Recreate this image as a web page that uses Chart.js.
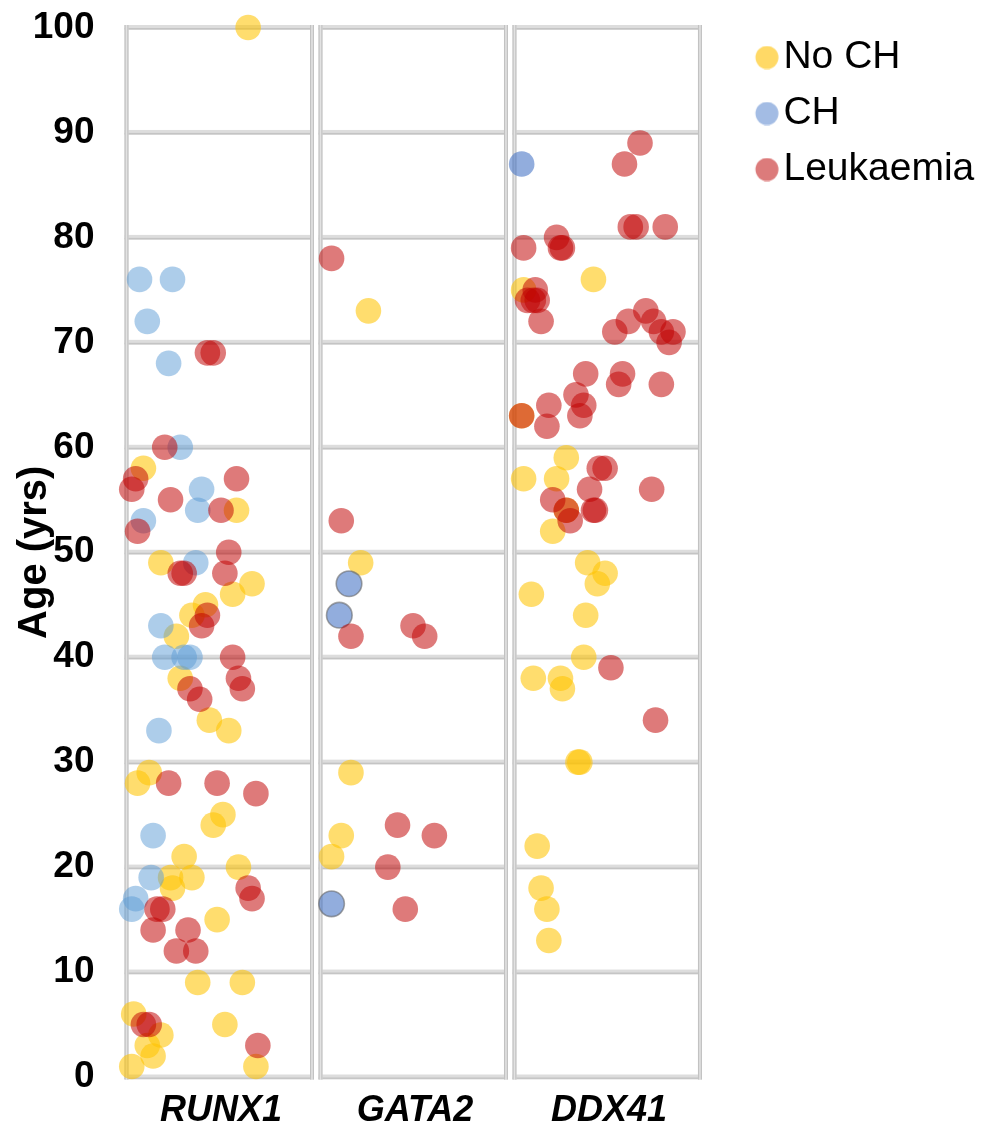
<!DOCTYPE html>
<html>
<head>
<meta charset="utf-8">
<script src="https://cdn.jsdelivr.net/npm/chart.js@4.4.1/dist/chart.umd.min.js"></script>
<style>
  html, body { margin: 0; padding: 0; background: #ffffff; }
  #wrap { width: 987px; height: 1126px; }
</style>
</head>
<body>
<div id="wrap"><canvas id="c" width="987" height="1126"></canvas></div>
<script>
// ---- data ----
const categories = ['RUNX1', 'GATA2', 'DDX41'];
const groupNames = ['No CH', 'CH', 'Leukaemia'];
const yTicks = [0, 10, 20, 30, 40, 50, 60, 70, 80, 90, 100];

// ages (years) and horizontal jitter inside each gene column (0..1)
const runx1NoChAge = [100,58,54,49,47,46,45,44,42,38,34,33,28,29,25,24,21,20,19,18,19,15,9,9,6,4,3,2,1,5,1];
const runx1NoChJit = [0.64,0.10,0.58,0.19,0.66,0.56,0.42,0.35,0.27,0.29,0.44,0.54,0.07,0.13,0.51,0.46,0.31,0.59,0.24,0.25,0.35,0.48,0.38,0.61,0.05,0.19,0.12,0.15,0.04,0.52,0.68];
const runx1ChAge = [76,76,72,68,60,53,56,54,49,43,40,40,40,33,23,19,17,16];
const runx1ChJit = [0.08,0.25,0.12,0.23,0.29,0.10,0.40,0.38,0.37,0.19,0.21,0.31,0.34,0.18,0.15,0.14,0.06,0.04];
const runx1LeukAge = [69,69,60,57,56,52,55,54,57,50,48,48,48,44,43,40,38,37,37,36,28,28,27,18,17,16,16,14,14,12,12,5,5,3];
const runx1LeukJit = [0.43,0.46,0.21,0.06,0.04,0.07,0.24,0.50,0.58,0.54,0.29,0.31,0.52,0.43,0.40,0.56,0.59,0.34,0.61,0.39,0.23,0.48,0.68,0.64,0.66,0.17,0.20,0.15,0.33,0.27,0.37,0.10,0.13,0.69];

const gata2NoChAge = [73,49,29,23,21];
const gata2NoChJit = [0.26,0.22,0.17,0.12,0.07];
const gata2ChAge = [47,44,16.5];
const gata2ChJit = [0.16,0.11,0.07];
const gata2LeukAge = [78,53,42,43,42,24,23,20,16];
const gata2LeukJit = [0.07,0.12,0.17,0.49,0.55,0.41,0.60,0.36,0.45];

const ddx41NoChAge = [76,75,63,59,57,57,54,52,49,48,47,46,44,40,38,38,37,30,30,22,18,16,13];
const ddx41NoChJit = [0.42,0.06,0.05,0.28,0.06,0.23,0.28,0.21,0.39,0.48,0.44,0.10,0.38,0.37,0.11,0.25,0.26,0.34,0.35,0.13,0.15,0.18,0.19];
const ddx41ChAge = [87];
const ddx41ChJit = [0.05];
const ddx41LeukAge = [89,87,81,81,81,79,80,79,79,75,74,74,74,72,71,72,73,72,71,71,70,67,67,66,66,65,64,64,63,63,62,58,58,56,56,55,54,54,54,53,39,34];
const ddx41LeukJit = [0.66,0.58,0.61,0.64,0.79,0.06,0.23,0.25,0.26,0.12,0.08,0.11,0.13,0.15,0.53,0.60,0.69,0.73,0.77,0.83,0.81,0.38,0.57,0.55,0.77,0.33,0.19,0.37,0.35,0.05,0.18,0.45,0.48,0.40,0.72,0.21,0.28,0.43,0.42,0.30,0.51,0.74];

// ---- build point lists ----
function pts(parts) {
  const out = [];
  parts.forEach(([gi, ages, jit]) => {
    ages.forEach((a, k) => out.push({ x: gi + jit[k], y: a }));
  });
  return out;
}
const noChData = pts([[0, runx1NoChAge, runx1NoChJit], [1, gata2NoChAge, gata2NoChJit], [2, ddx41NoChAge, ddx41NoChJit]]);
const chData = pts([[0, runx1ChAge, runx1ChJit], [1, gata2ChAge, gata2ChJit], [2, ddx41ChAge, ddx41ChJit]]);
const leukData = pts([[0, runx1LeukAge, runx1LeukJit], [1, gata2LeukAge, gata2LeukJit], [2, ddx41LeukAge, ddx41LeukJit]]);

// ---- legend markers (circle shifted right inside the image) ----
const legendColors = ['#FFD966', '#A3BCE4', '#DC7B7B'];
function makeMark(color) {
  const c = document.createElement('canvas');
  c.width = 40; c.height = 24;
  const g = c.getContext('2d');
  g.fillStyle = color;
  g.beginPath();
  g.arc(20 + 4.1, 12, 11.5, 0, Math.PI * 2);
  g.fill();
  return c;
}
const legendMarks = legendColors.map(makeMark);

// ---- panel frames and gridlines ----
function hLine(ctx, l, r, py) {
  ctx.fillStyle = '#DDDDDD';
  ctx.fillRect(l - 2, py - 2.5, r - l + 4, 5);
  ctx.fillStyle = '#C4C4C4';
  ctx.fillRect(l - 2, py + 0.5, r - l + 4, 1.4);
}
function vLine(ctx, px, t, b) {
  ctx.fillStyle = '#E2E2E2';
  ctx.fillRect(px - 2, t - 2.5, 4, b - t + 5);
  ctx.fillStyle = '#C2C2C2';
  ctx.fillRect(px - 2, t - 2.5, 1.2, b - t + 5);
  ctx.fillRect(px + 0.8, t - 2.5, 1.2, b - t + 5);
}
const panelPlugin = {
  id: 'panels',
  beforeDatasetsDraw(chart) {
    const { ctx, scales: { x, y } } = chart;
    const top = y.getPixelForValue(yTicks[yTicks.length - 1]);
    const bottom = y.getPixelForValue(yTicks[0]);
    ctx.save();
    categories.forEach((c, i) => {
      const l = x.getPixelForValue(i) + 2.5;
      const r = x.getPixelForValue(i + 1) - 6;
      yTicks.forEach(v => hLine(ctx, l, r, y.getPixelForValue(v)));
      vLine(ctx, l, top, bottom);
      vLine(ctx, r, top, bottom);
    });
    ctx.restore();
  }
};

const FONT = "'Liberation Sans', Arial, Helvetica, sans-serif";

new Chart(document.getElementById('c'), {
  type: 'scatter',
  data: {
    datasets: [
      {
        label: groupNames[0], data: noChData, order: 2, clip: false,
        backgroundColor: 'rgba(255,195,0,0.57)', borderWidth: 0,
        pointRadius: 12.8, pointHoverRadius: 12.8
      },
      {
        label: groupNames[1], data: chData, order: 1, clip: false,
        backgroundColor: (c) => (c.raw && c.raw.x < 1) ? 'rgba(91,155,213,0.5)' : 'rgba(68,114,196,0.58)',
        borderColor: 'rgba(105,105,105,0.6)',
        borderWidth: (c) => (c.raw && c.raw.x >= 1 && c.raw.x < 2) ? 1.6 : 0,
        pointRadius: 12.8, pointHoverRadius: 12.8
      },
      {
        label: groupNames[2], data: leukData, order: 0, clip: false,
        backgroundColor: 'rgba(192,0,0,0.52)', borderWidth: 0,
        pointRadius: 12.8, pointHoverRadius: 12.8
      }
    ]
  },
  options: {
    responsive: false,
    animation: false,
    events: [],
    layout: { padding: { top: 27.5, right: 2.75, bottom: 0, left: 0 } },
    scales: {
      x: {
        type: 'linear', min: 0, max: categories.length + 0.2,
        grid: { display: false }, border: { display: false },
        afterBuildTicks: (s) => { s.ticks = categories.map((c, i) => ({ value: i + 0.5 })); },
        afterFit: (s) => { s.height = 49; },
        ticks: {
          autoSkip: false, maxRotation: 0, padding: 4, color: '#000',
          font: { family: FONT, size: 36, weight: 'bold', style: 'italic' },
          callback: (v) => categories[Math.floor(v)]
        }
      },
      y: {
        type: 'linear', min: 0, max: 100,
        grid: { display: true, drawOnChartArea: false, drawTicks: true, tickLength: 29.5, color: 'rgba(0,0,0,0)' },
        border: { display: false },
        afterBuildTicks: (s) => { s.ticks = yTicks.map(v => ({ value: v })); },
        afterFit: (s) => { s.width = 124; },
        ticks: {
          padding: 0, color: '#000',
          font: { family: FONT, size: 37, weight: 'bold' }
        },
        title: {
          display: true, text: 'Age (yrs)', color: '#000',
          font: { family: FONT, size: 40, weight: 'bold', lineHeight: 1.2 },
          padding: { top: 11, bottom: 0 }
        }
      }
    },
    plugins: {
      tooltip: { enabled: false },
      legend: {
        position: 'right', align: 'start',
        title: { display: true, text: '', font: { size: 10, lineHeight: 0 }, padding: { top: -6.5, bottom: 0 } },
        labels: {
          usePointStyle: true, pointStyleWidth: 2.2, padding: 17, color: '#000',
          font: { family: FONT, size: 39 },
          sort: (a, b) => a.datasetIndex - b.datasetIndex,
          generateLabels: (chart) => {
            const items = Chart.defaults.plugins.legend.labels.generateLabels(chart);
            items.forEach(it => { it.pointStyle = legendMarks[it.datasetIndex]; it.lineWidth = 0; });
            return items;
          }
        }
      }
    }
  },
  plugins: [panelPlugin]
});
</script>
</body>
</html>
